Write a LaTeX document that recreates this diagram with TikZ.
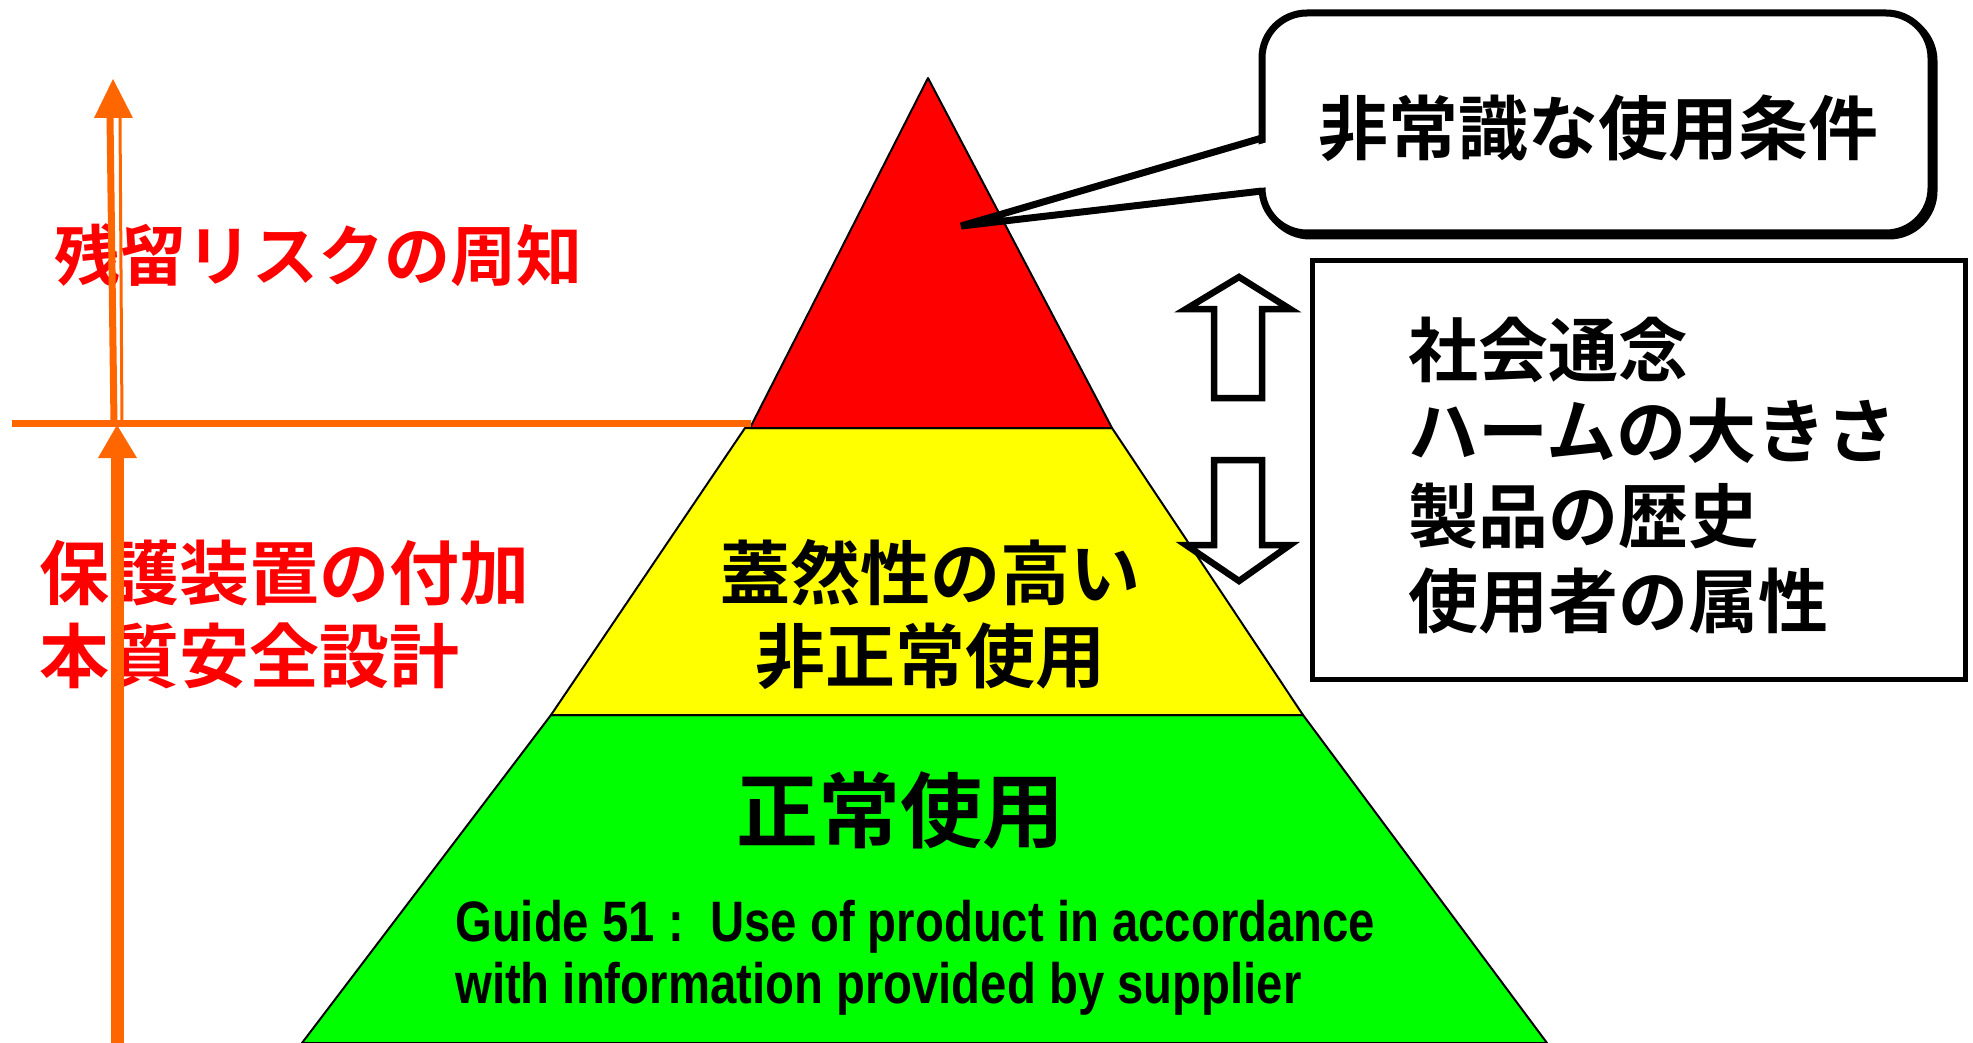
\documentclass[tikz,border=0pt]{standalone}
\usepackage{fontspec}
\newfontfamily\jp{Noto Sans CJK JP}[BoldFont={* Bold}]
\newfontfamily\narrowsans{Liberation Sans}[FakeStretch=0.83]
\definecolor{orng}{RGB}{255,102,0}
\definecolor{pred}{RGB}{255,0,0}
\definecolor{pyellow}{RGB}{255,255,0}
\definecolor{pgreen}{RGB}{0,255,0}
\begin{document}
\begin{tikzpicture}[x=1pt,y=-1pt,
  jtext/.style={font=\jp\bfseries\fontsize{70}{84}\selectfont, inner sep=0pt},
  redtext/.style={jtext, text=pred},
  guide/.style={font=\narrowsans\bfseries\fontsize{57}{64}\selectfont, inner sep=0pt},
  pyr/.style={draw=black, line width=2pt, line join=round},
  hollow/.style={draw=black, line width=6.5pt, fill=white, line join=miter},
  orngline/.style={draw=orng, line cap=butt}]
\useasboundingbox (0,0) rectangle (1973,1043);

% ---------- pyramid ----------
\filldraw[pyr, fill=pgreen] (302,1043) -- (551,715) -- (1303,715) -- (1547,1043) -- cycle;
\filldraw[pyr, fill=pyellow] (551,715) -- (745,428) -- (1112,428) -- (1303,715) -- cycle;
\filldraw[pyr, fill=pred] (750,428) -- (928,78) -- (1112,428) -- cycle;

\node[jtext, font=\jp\bfseries\fontsize{82}{90}\selectfont] (normal) at (900,810) {正常使用};
\node[guide, anchor=base west] (g1) at (455,941) {Guide 51 :\ \ Use of product in accordance};
\node[guide, anchor=base west] (g2) at (455,1003) {with information provided by supplier};

\node[jtext] (y1) at (930,573) {蓋然性の高い};
\node[jtext] (y2) at (930,656) {非正常使用};

% ---------- callout ----------
\draw[line width=7pt, rounded corners=45pt, fill=black] (1265,16) rectangle (1934,236);
\node[draw=black, line width=7pt, rounded corners=45pt, fill=white,
      minimum width=669pt, minimum height=220pt, inner sep=0pt] (callout) at (1596.5,123) {};
\node[jtext] (calltext) at (1598,128) {非常識な使用条件};
\coordinate (tip) at (961,226);
\coordinate (tailA) at (1262,138);
\coordinate (tailB) at (1262,191);
\fill[white] (tip) -- ([xshift=6pt,yshift=-4pt]tailA) -- ([xshift=6pt,yshift=4pt]tailB) -- cycle;
\draw[line width=7pt, line join=bevel] (tailA) -- (tip) -- (tailB);

% ---------- factor box ----------
\node[draw=black, line width=5pt, minimum width=653pt, minimum height=419pt, inner sep=0pt] (factors) at (1638.5,469.5) {};
\node[jtext, anchor=west] (f1) at (1408,350) {社会通念};
\node[jtext, anchor=west] (f2) at (1408,431) {ハームの大きさ};
\node[jtext, anchor=west] (f3) at (1408,516) {製品の歴史};
\node[jtext, anchor=west] (f4) at (1408,601) {使用者の属性};

% ---------- hollow arrows ----------
\draw[hollow] (1239,277) -- (1290,309) -- (1262,309) -- (1262,398) -- (1214,398) -- (1214,309) -- (1186,309) -- cycle;
\draw[hollow] (1239,581) -- (1290,545) -- (1262,545) -- (1262,460) -- (1214,460) -- (1214,545) -- (1186,545) -- cycle;

% ---------- left red texts ----------
\node[redtext, font=\jp\bfseries\fontsize{66}{80}\selectfont, anchor=west] (resid) at (54,255) {残留リスクの周知};
\node[redtext, anchor=west] (prot) at (39,573) {保護装置の付加};
\node[redtext, anchor=west] (inher) at (39,656) {本質安全設計};

% ---------- orange arrows ----------
\coordinate (hl) at (12,423);
\coordinate (hr) at (751,423);
\draw[orngline, line width=7pt] (hl) -- (hr);
\coordinate (uptip) at (113,79);
\fill[orng] (uptip) -- (94,118) -- (133,118) -- cycle;
\draw[orngline, line width=7pt] (110,116) -- (114,423);
\draw[orngline, line width=3pt] (120,116) -- (122,423);
\coordinate (lotip) at (117,425);
\fill[orng] (lotip) -- (98,458) -- (137,458) -- cycle;
\draw[orngline, line width=13pt] (117.5,456) -- (117.5,1043);
\end{tikzpicture}
\end{document}
